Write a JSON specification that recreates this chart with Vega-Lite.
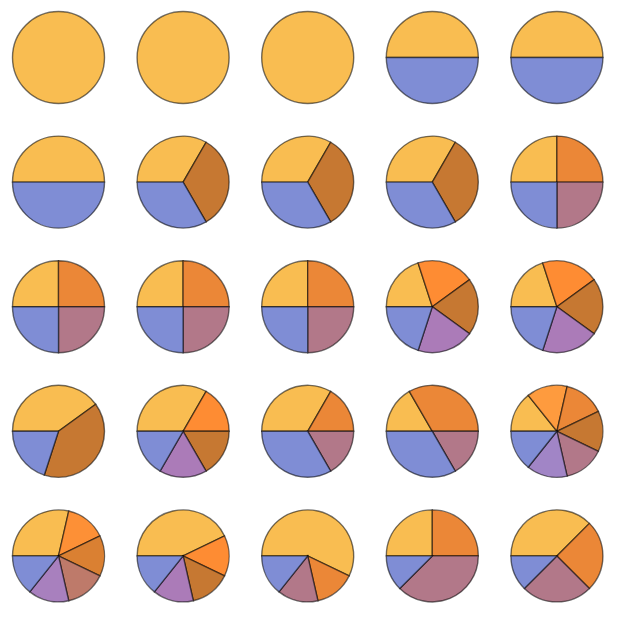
{
  "$schema": "https://vega.github.io/schema/vega-lite/v6.json",
  "padding": 0,
  "background": "white",
  "data": {"values": [
    {"pie": 1, "k": 1, "v": 1, "shade": "yellow"},
    {"pie": 2, "k": 1, "v": 1, "shade": "yellow"},
    {"pie": 3, "k": 1, "v": 1, "shade": "yellow"},
    {"pie": 4, "k": 1, "v": 1, "shade": "yellow"},
    {"pie": 4, "k": 2, "v": 1, "shade": "blue"},
    {"pie": 5, "k": 1, "v": 1, "shade": "yellow"},
    {"pie": 5, "k": 2, "v": 1, "shade": "blue"},
    {"pie": 6, "k": 1, "v": 1, "shade": "yellow"},
    {"pie": 6, "k": 2, "v": 1, "shade": "blue"},
    {"pie": 7, "k": 1, "v": 1, "shade": "yellow"},
    {"pie": 7, "k": 2, "v": 1, "shade": "brown"},
    {"pie": 7, "k": 3, "v": 1, "shade": "blue"},
    {"pie": 8, "k": 1, "v": 1, "shade": "yellow"},
    {"pie": 8, "k": 2, "v": 1, "shade": "brown"},
    {"pie": 8, "k": 3, "v": 1, "shade": "blue"},
    {"pie": 9, "k": 1, "v": 1, "shade": "yellow"},
    {"pie": 9, "k": 2, "v": 1, "shade": "brown"},
    {"pie": 9, "k": 3, "v": 1, "shade": "blue"},
    {"pie": 10, "k": 1, "v": 1, "shade": "yellow"},
    {"pie": 10, "k": 2, "v": 1, "shade": "orange"},
    {"pie": 10, "k": 3, "v": 1, "shade": "mauve"},
    {"pie": 10, "k": 4, "v": 1, "shade": "blue"},
    {"pie": 11, "k": 1, "v": 1, "shade": "yellow"},
    {"pie": 11, "k": 2, "v": 1, "shade": "orange"},
    {"pie": 11, "k": 3, "v": 1, "shade": "mauve"},
    {"pie": 11, "k": 4, "v": 1, "shade": "blue"},
    {"pie": 12, "k": 1, "v": 1, "shade": "yellow"},
    {"pie": 12, "k": 2, "v": 1, "shade": "orange"},
    {"pie": 12, "k": 3, "v": 1, "shade": "mauve"},
    {"pie": 12, "k": 4, "v": 1, "shade": "blue"},
    {"pie": 13, "k": 1, "v": 1, "shade": "yellow"},
    {"pie": 13, "k": 2, "v": 1, "shade": "orange"},
    {"pie": 13, "k": 3, "v": 1, "shade": "mauve"},
    {"pie": 13, "k": 4, "v": 1, "shade": "blue"},
    {"pie": 14, "k": 1, "v": 1, "shade": "yellow"},
    {"pie": 14, "k": 2, "v": 1, "shade": "amber"},
    {"pie": 14, "k": 3, "v": 1, "shade": "brown"},
    {"pie": 14, "k": 4, "v": 1, "shade": "purple"},
    {"pie": 14, "k": 5, "v": 1, "shade": "blue"},
    {"pie": 15, "k": 1, "v": 1, "shade": "yellow"},
    {"pie": 15, "k": 2, "v": 1, "shade": "amber"},
    {"pie": 15, "k": 3, "v": 1, "shade": "brown"},
    {"pie": 15, "k": 4, "v": 1, "shade": "purple"},
    {"pie": 15, "k": 5, "v": 1, "shade": "blue"},
    {"pie": 16, "k": 1, "v": 2, "shade": "yellow"},
    {"pie": 16, "k": 2, "v": 2, "shade": "brown"},
    {"pie": 16, "k": 3, "v": 1, "shade": "blue"},
    {"pie": 17, "k": 1, "v": 2, "shade": "yellow"},
    {"pie": 17, "k": 2, "v": 1, "shade": "amber"},
    {"pie": 17, "k": 3, "v": 1, "shade": "brown"},
    {"pie": 17, "k": 4, "v": 1, "shade": "purple"},
    {"pie": 17, "k": 5, "v": 1, "shade": "blue"},
    {"pie": 18, "k": 1, "v": 2, "shade": "yellow"},
    {"pie": 18, "k": 2, "v": 1, "shade": "orange"},
    {"pie": 18, "k": 3, "v": 1, "shade": "mauve"},
    {"pie": 18, "k": 4, "v": 2, "shade": "blue"},
    {"pie": 19, "k": 1, "v": 1, "shade": "yellow"},
    {"pie": 19, "k": 2, "v": 2, "shade": "orange"},
    {"pie": 19, "k": 3, "v": 1, "shade": "mauve"},
    {"pie": 19, "k": 4, "v": 2, "shade": "blue"},
    {"pie": 20, "k": 1, "v": 1, "shade": "yellow"},
    {"pie": 20, "k": 2, "v": 1, "shade": "apricot"},
    {"pie": 20, "k": 3, "v": 1, "shade": "orange"},
    {"pie": 20, "k": 4, "v": 1, "shade": "brown"},
    {"pie": 20, "k": 5, "v": 1, "shade": "mauve"},
    {"pie": 20, "k": 6, "v": 1, "shade": "lavender"},
    {"pie": 20, "k": 7, "v": 1, "shade": "blue"},
    {"pie": 21, "k": 1, "v": 2, "shade": "yellow"},
    {"pie": 21, "k": 2, "v": 1, "shade": "tangerine"},
    {"pie": 21, "k": 3, "v": 1, "shade": "rust"},
    {"pie": 21, "k": 4, "v": 1, "shade": "clay"},
    {"pie": 21, "k": 5, "v": 1, "shade": "violet"},
    {"pie": 21, "k": 6, "v": 1, "shade": "blue"},
    {"pie": 22, "k": 1, "v": 3, "shade": "yellow"},
    {"pie": 22, "k": 2, "v": 1, "shade": "amber"},
    {"pie": 22, "k": 3, "v": 1, "shade": "brown"},
    {"pie": 22, "k": 4, "v": 1, "shade": "purple"},
    {"pie": 22, "k": 5, "v": 1, "shade": "blue"},
    {"pie": 23, "k": 1, "v": 4, "shade": "yellow"},
    {"pie": 23, "k": 2, "v": 1, "shade": "orange"},
    {"pie": 23, "k": 3, "v": 1, "shade": "mauve"},
    {"pie": 23, "k": 4, "v": 1, "shade": "blue"},
    {"pie": 24, "k": 1, "v": 2, "shade": "yellow"},
    {"pie": 24, "k": 2, "v": 2, "shade": "orange"},
    {"pie": 24, "k": 3, "v": 3, "shade": "mauve"},
    {"pie": 24, "k": 4, "v": 1, "shade": "blue"},
    {"pie": 25, "k": 1, "v": 3, "shade": "yellow"},
    {"pie": 25, "k": 2, "v": 2, "shade": "orange"},
    {"pie": 25, "k": 3, "v": 2, "shade": "mauve"},
    {"pie": 25, "k": 4, "v": 1, "shade": "blue"}
  ]},
  "facet": {"field": "pie", "type": "ordinal", "title": null, "header": {"title": null, "labels": false, "labelExpr": "''", "labelFontSize": 0, "labelPadding": 0, "labelLimit": 1}},
  "columns": 5,
  "spacing": {"row": 9.6, "column": 7.6},
  "spec": {
    "width": 117,
    "height": 115,
    "mark": {"type": "arc", "outerRadius": 46, "stroke": "#000000", "strokeWidth": 1.4, "strokeOpacity": 0.55},
    "encoding": {
      "theta": {"field": "v", "type": "quantitative", "stack": "normalize", "scale": {"range": [-1.5708, 4.7124]}},
      "order": {"field": "k", "type": "quantitative"},
      "color": {
        "field": "shade", "type": "nominal", "legend": null,
        "scale": {
          "domain": ["yellow", "apricot", "tangerine", "amber", "orange", "rust", "brown", "clay", "mauve", "purple", "violet", "lavender", "blue"],
          "range": ["#F9BD51", "#FE9B3E", "#FD9036", "#FE8C33", "#EB8737", "#DA8032", "#C67832", "#BE7A6A", "#B27889", "#AB7BB8", "#A880BE", "#A185C6", "#7F8DD5"]
        }
      }
    }
  },
  "config": {"view": {"stroke": null}, "header": {"labels": false, "title": null, "labelFontSize": 0, "labelPadding": 0}, "headerFacet": {"labels": false, "title": null, "labelFontSize": 0, "labelPadding": 0}}
}
